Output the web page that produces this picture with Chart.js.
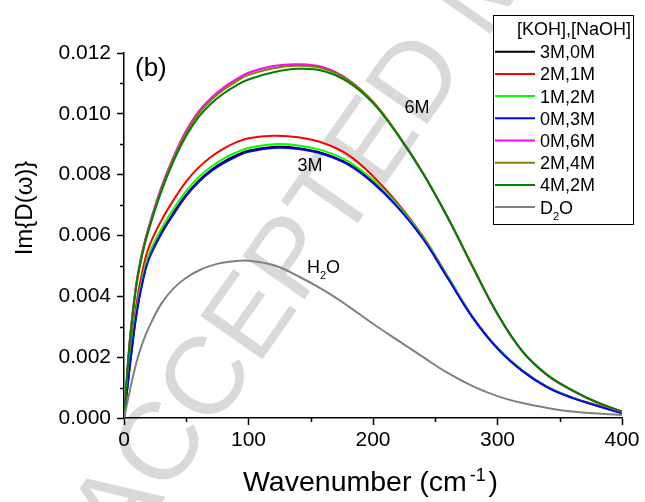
<!DOCTYPE html>
<html>
<head>
<meta charset="utf-8">
<script src="https://cdn.jsdelivr.net/npm/chart.js@4.4.0/dist/chart.umd.min.js"></script>
<style>
  html, body { margin: 0; padding: 0; background: #fff; }
  #wrap { width: 645px; height: 502px; }
</style>
</head>
<body>
<div id="wrap"><canvas id="myChart" width="645" height="502"></canvas></div>
<script>
// wavenumber grid (cm-1)
var wavenumber = [0, 2.5, 5, 10, 15, 20, 30, 40, 50, 60, 70, 80, 90, 100, 120, 140, 160, 180, 200, 220, 240, 260, 280, 300, 320, 340, 360, 380, 400];

// Im{D(w)} for each [KOH],[NaOH] mix
var koh3_naoh0 = [0, 0.00093, 0.00184, 0.00345, 0.00453, 0.00527, 0.0061, 0.00676, 0.00734, 0.0078, 0.00815, 0.00842, 0.00863, 0.00879, 0.00891, 0.00887, 0.0087, 0.00836, 0.00776, 0.00695, 0.00592, 0.00462, 0.00332, 0.0023, 0.00156, 0.00102, 0.00067, 0.00041, 0.00017];
var koh2_naoh1 = [0, 0.001, 0.00202, 0.00375, 0.00487, 0.00562, 0.00649, 0.00718, 0.00778, 0.00824, 0.00859, 0.00886, 0.00906, 0.0092, 0.00928, 0.00923, 0.00904, 0.00865, 0.00795, 0.00705, 0.00598, 0.00466, 0.00333, 0.0023, 0.00156, 0.00102, 0.00067, 0.0004, 0.00016];
var koh1_naoh2 = [0, 0.00095, 0.0019, 0.00353, 0.00463, 0.00538, 0.00622, 0.00689, 0.00747, 0.00792, 0.00826, 0.00853, 0.00873, 0.00888, 0.009, 0.00896, 0.00879, 0.00844, 0.00783, 0.00699, 0.00595, 0.00464, 0.00332, 0.0023, 0.00156, 0.00102, 0.00067, 0.0004, 0.00016];
var koh0_naoh3 = [0, 0.0009, 0.0018, 0.0034, 0.00448, 0.00522, 0.00605, 0.00671, 0.0073, 0.00776, 0.00811, 0.00838, 0.00859, 0.00875, 0.00888, 0.00884, 0.00867, 0.00833, 0.00773, 0.00692, 0.0059, 0.0046, 0.0033, 0.00228, 0.00154, 0.00101, 0.00066, 0.0004, 0.00016];
var koh0_naoh6 = [0, 0.00145, 0.0027, 0.00445, 0.00553, 0.00631, 0.00759, 0.00861, 0.00945, 0.01008, 0.01052, 0.01086, 0.01113, 0.01135, 0.01157, 0.01163, 0.01153, 0.01113, 0.0104, 0.00932, 0.00806, 0.00659, 0.00497, 0.00341, 0.00218, 0.0014, 0.0009, 0.0005, 0.0002];
var koh2_naoh4 = [0, 0.00143, 0.00267, 0.00441, 0.00548, 0.00626, 0.00753, 0.00855, 0.00938, 0.01001, 0.01045, 0.01079, 0.01106, 0.01128, 0.0115, 0.01158, 0.01149, 0.01111, 0.0104, 0.00933, 0.00807, 0.0066, 0.00498, 0.00342, 0.00219, 0.00141, 0.00091, 0.00051, 0.00021];
var koh4_naoh2 = [0, 0.00141, 0.00264, 0.00437, 0.00543, 0.0062, 0.00745, 0.00846, 0.00928, 0.0099, 0.01034, 0.01067, 0.01093, 0.01113, 0.01137, 0.01148, 0.01141, 0.01105, 0.01035, 0.0093, 0.00805, 0.00659, 0.00498, 0.00343, 0.0022, 0.00142, 0.00092, 0.00052, 0.00022];
var d2o = [0, 0.000475, 0.00095, 0.00183, 0.00248, 0.00298, 0.00376, 0.00427, 0.00461, 0.00485, 0.00501, 0.00511, 0.00516, 0.00517, 0.00503, 0.00466, 0.00421, 0.00368, 0.0031, 0.00255, 0.00201, 0.00148, 0.00105, 0.00072, 0.00049, 0.00033, 0.00021, 0.00015, 0.0001];

var seriesLabels = ['3M,0M', '2M,1M', '1M,2M', '0M,3M', '0M,6M', '2M,4M', '4M,2M', 'D\u2082O'];
var seriesColors = ['#000000', '#ff0000', '#00ff00', '#0000ff', '#ff00ff', '#808000', '#008000', '#808080'];
var seriesValues = [koh3_naoh0, koh2_naoh1, koh1_naoh2, koh0_naoh3, koh0_naoh6, koh2_naoh4, koh4_naoh2, d2o];

var xTickStep = 100;
var yTickStep = 0.002;

var FONT = '"Liberation Sans", Arial, Helvetica, sans-serif';

// text with sub/superscript pieces (D2O, H2O, cm-1)
var SUB = { '\u2082': '2' };
var SUP = { '\u207B': '-', '\u00B9': '1' };
function pieces(text) {
  var out = [];
  for (var ch of text) {
    var kind = SUB[ch] ? 'sub' : (SUP[ch] ? 'sup' : 'n');
    var c = SUB[ch] || SUP[ch] || ch;
    var last = out[out.length - 1];
    if (last && last.kind === kind) last.t += c; else out.push({ t: c, kind: kind });
  }
  return out;
}
function drawScript(ctx, text, x, y, size, align) {
  var parts = pieces(text);
  var small = Math.round(size * 0.62);
  var total = 0;
  parts.forEach(function (p) {
    ctx.font = (p.kind === 'n' ? size : small) + 'px ' + FONT;
    // superscripts get a little air on both sides
    p.pad = p.kind === 'sup' ? size * 0.1 : 0;
    p.w = ctx.measureText(p.t).width + 2 * p.pad;
    total += p.w;
  });
  var cx = align === 'right' ? x - total : (align === 'center' ? x - total / 2 : x);
  ctx.textAlign = 'left';
  ctx.textBaseline = 'alphabetic';
  parts.forEach(function (p) {
    ctx.font = (p.kind === 'n' ? size : small) + 'px ' + FONT;
    var dy = p.kind === 'sub' ? size * 0.36 : (p.kind === 'sup' ? -size * 0.34 : 0);
    ctx.fillText(p.t, cx + p.pad, y + dy);
    cx += p.w;
  });
}

// faint diagonal stamp behind everything
var stampPlugin = {
  id: 'stamp',
  beforeDraw: function (chart) {
    var ctx = chart.ctx;
    ctx.save();
    ctx.translate(124, 557);
    ctx.rotate(-55 * Math.PI / 180);
    ctx.fillStyle = '#d9d9d9';
    ctx.font = '110px ' + FONT;
    ctx.textAlign = 'left';
    ctx.textBaseline = 'alphabetic';
    ctx.fillText('ACCEPTED MANUSCRIPT', 0, 0);
    ctx.restore();
  }
};

// minor ticks, curve labels, axis titles and the boxed legend
var decorPlugin = {
  id: 'decor',
  afterDraw: function (chart) {
    var ctx = chart.ctx;
    var xs = chart.scales.x, ys = chart.scales.y;
    var area = chart.chartArea;
    ctx.save();
    ctx.strokeStyle = '#000';
    ctx.lineWidth = 1.5;
    ctx.beginPath();
    for (var v = xTickStep / 2; v < 400; v += xTickStep) {
      var px = Math.round(xs.getPixelForValue(v)) + 0.5;
      ctx.moveTo(px, area.bottom);
      ctx.lineTo(px, area.bottom + 4);
    }
    for (var k = 0; k < 6; k++) {
      var py = Math.round(ys.getPixelForValue(yTickStep / 2 + k * yTickStep)) + 0.5;
      ctx.moveTo(area.left, py);
      ctx.lineTo(area.left - 4, py);
    }
    ctx.stroke();

    ctx.fillStyle = '#000';
    drawScript(ctx, '(b)', 135, 76, 26, 'left');
    drawScript(ctx, '6M', 417, 113, 18, 'center');
    drawScript(ctx, '3M', 310, 171, 18, 'center');
    drawScript(ctx, 'H\u2082O', 307, 273, 18, 'left');

    // axis titles
    drawScript(ctx, 'Wavenumber (cm\u207B\u00B9)', 243, 491, 28.5, 'left');
    ctx.save();
    ctx.translate(31.5, 208);
    ctx.rotate(-Math.PI / 2);
    ctx.font = '24px ' + FONT;
    ctx.textAlign = 'center';
    ctx.textBaseline = 'alphabetic';
    ctx.fillText('Im{D(\u03C9)}', 0, 0);
    ctx.restore();

    // legend
    ctx.fillStyle = '#fff';
    ctx.fillRect(493, 15, 141, 210);
    ctx.strokeStyle = '#000';
    ctx.lineWidth = 1;
    ctx.strokeRect(493.5, 15.5, 140, 209);
    ctx.fillStyle = '#000';
    drawScript(ctx, '[KOH],[NaOH]', 631, 35, 18, 'right');
    chart.data.datasets.forEach(function (ds, i) {
      var ly = 51.7 + i * 22.2;
      ctx.strokeStyle = ds.borderColor;
      ctx.lineWidth = 2;
      ctx.beginPath();
      ctx.moveTo(495, ly);
      ctx.lineTo(535, ly);
      ctx.stroke();
      ctx.fillStyle = '#000';
      drawScript(ctx, ds.label, 540, ly + 6.5, 18, 'left');
    });
    ctx.restore();
  }
};

var datasets = seriesLabels.map(function (label, i) {
  return {
    label: label,
    data: wavenumber.map(function (w, j) { return { x: w, y: seriesValues[i][j] }; }),
    borderColor: seriesColors[i],
    backgroundColor: seriesColors[i],
    borderWidth: 2,
    pointRadius: 0,
    fill: false,
    tension: 0.4,
    order: seriesLabels.length - i
  };
});

var mychart = document.getElementById('myChart').getContext('2d');
var chart = new Chart(mychart, {
  type: 'line',
  data: { datasets: datasets },
  options: {
    responsive: false,
    animation: false,
    layout: { padding: { left: 0, top: 53, right: 23, bottom: 0 } },
    plugins: { legend: { display: false }, tooltip: { enabled: false } },
    scales: {
      x: {
        type: 'linear',
        min: 0,
        max: 400,
        afterFit: function (scale) { scale.height = 84; },
        ticks: { stepSize: xTickStep, color: '#000', padding: 3, font: { family: FONT, size: 21 }, maxRotation: 0 },
        grid: { drawOnChartArea: false, drawTicks: true, tickLength: 7, color: '#000', tickWidth: 1.5 },
        border: { display: true, color: '#000', width: 1.5 }
      },
      y: {
        type: 'linear',
        min: 0,
        max: 0.012,
        afterFit: function (scale) { scale.width = 124; },
        ticks: {
          stepSize: yTickStep, color: '#000', padding: 6, font: { family: FONT, size: 21 },
          callback: function (v) { return v.toFixed(3); }
        },
        grid: { drawOnChartArea: false, drawTicks: true, tickLength: 7, color: '#000', tickWidth: 1.5 },
        border: { display: true, color: '#000', width: 1.5 }
      }
    }
  },
  plugins: [stampPlugin, decorPlugin]
});
</script>
</body>
</html>
